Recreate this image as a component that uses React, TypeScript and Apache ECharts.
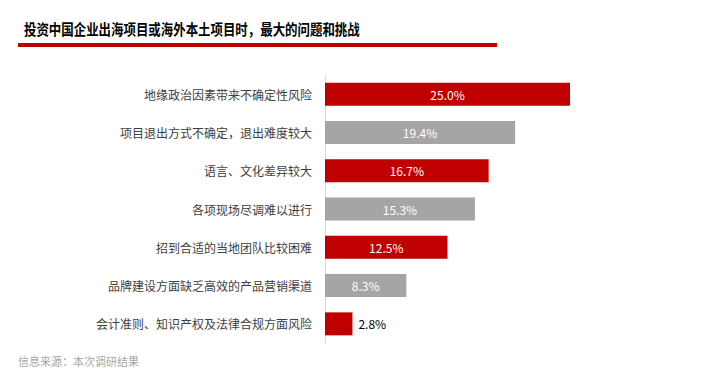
import React, { useEffect, useRef } from "react";
import * as echarts from "echarts";

const categories = [
  "地缘政治因素带来不确定性风险",
  "项目退出方式不确定，退出难度较大",
  "语言、文化差异较大",
  "各项现场尽调难以进行",
  "招到合适的当地团队比较困难",
  "品牌建设方面缺乏高效的产品营销渠道",
  "会计准则、知识产权及法律合规方面风险",
];
const values = [25.0, 19.4, 16.7, 15.3, 12.5, 8.3, 2.8];
const titleText = "投资中国企业出海项目或海外本土项目时，最大的问题和挑战";
const sourceText = "信息来源：本次调研结果";

const RED = "#C00000";
const GRAY = "#A5A5A5";
const FONT = "'Noto Sans CJK SC', 'Noto Sans', sans-serif";

export default function App() {
  const ref = useRef<HTMLDivElement>(null);
  useEffect(() => {
    if (!ref.current) return;
    const chart = echarts.init(ref.current, undefined, { renderer: "svg" });
    const data = values.map((v, i) => {
      const outside = v < 5;
      return {
        value: v,
        itemStyle: { color: i % 2 === 0 ? RED : GRAY },
        label: outside
          ? { position: "right", color: "#000000", distance: 6 }
          : { position: "inside", color: "#ffffff" },
      };
    });
    chart.setOption({
      animation: false,
      textStyle: { fontFamily: FONT },
      grid: { left: 325, top: 75, width: 294, height: 268, containLabel: false },
      xAxis: {
        type: "value",
        min: 0,
        max: 30,
        show: false,
      },
      yAxis: {
        type: "category",
        data: categories,
        inverse: true,
        axisLine: { show: true, lineStyle: { color: "#D9D9D9", width: 1 } },
        axisTick: { show: false },
        axisLabel: { color: "#404040", fontSize: 12, margin: 13, fontFamily: FONT },
      },
      series: [
        {
          type: "bar",
          data,
          barWidth: 23,
          label: {
            show: true,
            fontSize: 12,
            fontFamily: FONT,
            formatter: (p: any) => p.value.toFixed(1) + "%",
          },
        },
      ],
      graphic: [
        {
          type: "text",
          x: 24,
          y: 28,
          scaleX: 0.83,
          style: {
            text: titleText,
            fontSize: 15,
            fontWeight: "bold",
            fill: "#000000",
            fontFamily: FONT,
            textVerticalAlign: "middle",
            verticalAlign: "middle",
          },
        },
        {
          type: "rect",
          shape: { x: 18, y: 43, width: 479, height: 4 },
          style: { fill: RED },
        },
        {
          type: "text",
          left: 18,
          top: 355,
          style: {
            text: sourceText,
            fontSize: 11,
            fill: "#A6A6A6",
            fontFamily: FONT,
          },
        },
      ],
    });
    return () => chart.dispose();
  }, []);
  return (
    <div
      ref={ref}
      style={{ position: "fixed", left: 0, top: 0, width: 718, height: 387, background: "#fff" }}
    />
  );
}
